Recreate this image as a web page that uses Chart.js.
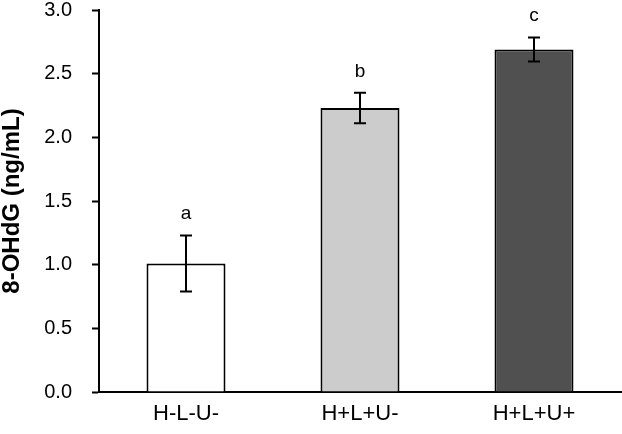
<!DOCTYPE html>
<html>
<head>
<meta charset="utf-8">
<script src="https://cdn.jsdelivr.net/npm/chart.js@4"></script>
<style>
  html, body { margin: 0; padding: 0; background: #fff; }
  #wrap { width: 622px; height: 434px; }
</style>
</head>
<body>
<div id="wrap"><canvas id="chart"></canvas></div>
<script>
const groups = ['H-L-U-', 'H+L+U-', 'H+L+U+'];
const means = [1.01, 2.23, 2.69];
const errors = [0.22, 0.12, 0.095];
const letters = ['a', 'b', 'c'];
const barColors = ['#ffffff', '#cccccc', '#505050'];

// error bars and significance letters, placed via the chart's own scales
const errorBarPlugin = {
  id: 'errorBars',
  afterDatasetsDraw(chart) {
    const ctx = chart.ctx;
    const x = chart.scales.x;
    const y = chart.scales.y;
    ctx.save();
    ctx.strokeStyle = '#000';
    ctx.lineWidth = 2;
    means.forEach((m, i) => {
      const cx = x.getPixelForValue(i);
      const top = y.getPixelForValue(m + errors[i]);
      const bot = y.getPixelForValue(m - errors[i]);
      ctx.beginPath();
      ctx.moveTo(cx, top);
      ctx.lineTo(cx, bot);
      ctx.moveTo(cx - 6, top);
      ctx.lineTo(cx + 6, top);
      ctx.moveTo(cx - 6, bot);
      ctx.lineTo(cx + 6, bot);
      ctx.stroke();

      ctx.fillStyle = '#000';
      ctx.font = '19px "Liberation Sans", Arial, sans-serif';
      ctx.textAlign = 'center';
      ctx.textBaseline = 'alphabetic';
      ctx.fillText(letters[i], cx, top - 16);
    });
    ctx.restore();
  }
};

const tickFont = { family: '"Liberation Sans", Arial, sans-serif', size: 20, lineHeight: 1 };
const labelFont = { family: '"Liberation Sans", Arial, sans-serif', size: 22, lineHeight: 1 };

new Chart(document.getElementById('chart'), {
  type: 'bar',
  data: {
    labels: groups,
    datasets: [{
      data: means,
      backgroundColor: barColors,
      borderColor: '#000',
      borderWidth: 2,
      barPercentage: 0.454,
      categoryPercentage: 1
    }]
  },
  options: {
    responsive: true,
    maintainAspectRatio: false,
    animation: false,
    layout: { padding: { top: 0, right: 1, left: 0, bottom: 0 } },
    plugins: {
      legend: { display: false },
      tooltip: { enabled: false }
    },
    scales: {
      x: {
        grid: { display: false, drawTicks: false },
        border: { display: true, color: '#000', width: 2 },
        ticks: { color: '#000', font: labelFont, padding: 11 },
        afterFit(scale) { scale.height = 42; }
      },
      y: {
        min: 0,
        max: 3,
        ticks: {
          stepSize: 0.5,
          color: '#000',
          font: tickFont,
          padding: 20,
          callback: v => v.toFixed(1)
        },
        grid: {
          drawOnChartArea: false,
          drawTicks: true,
          tickLength: 7,
          tickWidth: 2,
          color: '#000'
        },
        border: { display: true, color: '#000', width: 2 },
        title: {
          display: true,
          text: '8-OHdG (ng/mL)',
          color: '#000',
          font: { family: '"Liberation Sans", Arial, sans-serif', size: 24, weight: 'bold', lineHeight: 1 },
          padding: { top: 0, bottom: 16 }
        },
        // the library pads ticks twice; pin the axis where the reference has it
        afterFit(scale) {
          scale.width = 99;
          scale.paddingTop = 10;
          scale.paddingBottom = 0;
        }
      }
    }
  },
  plugins: [errorBarPlugin]
});
</script>
</body>
</html>
